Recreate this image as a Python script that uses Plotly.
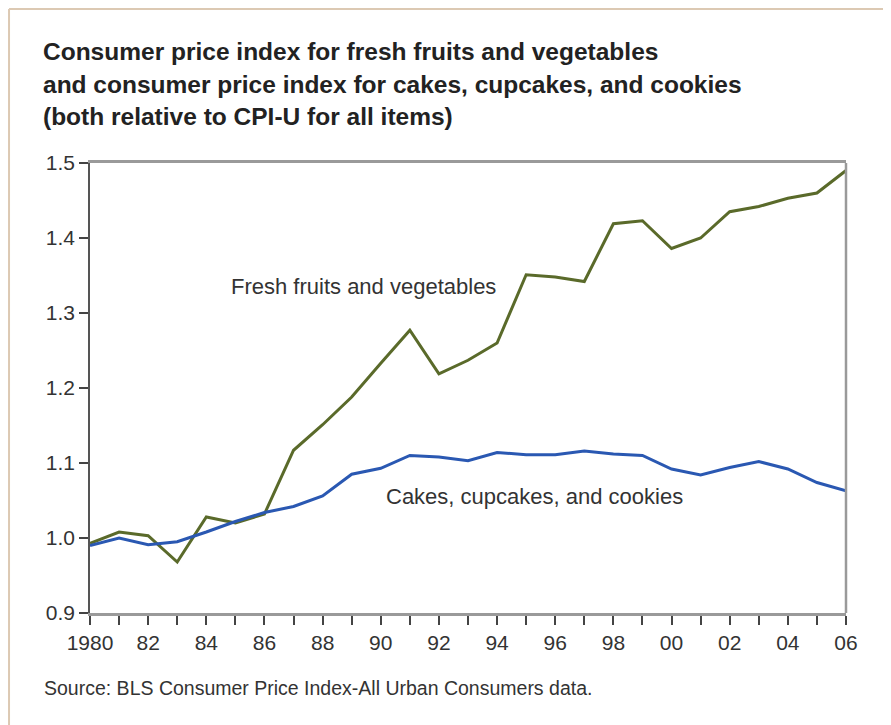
import plotly.graph_objects as go

years = list(range(1980, 2007))
fresh_fruits_veg = [0.993, 1.008, 1.003, 0.968, 1.028, 1.020, 1.032, 1.117, 1.151, 1.188,
                    1.233, 1.277, 1.219, 1.237, 1.260, 1.351, 1.348, 1.342, 1.419, 1.423,
                    1.386, 1.400, 1.435, 1.442, 1.453, 1.460, 1.490]
cakes_cookies = [0.990, 1.000, 0.991, 0.995, 1.008, 1.022, 1.034, 1.042, 1.056, 1.085,
                 1.093, 1.110, 1.108, 1.103, 1.114, 1.111, 1.111, 1.116, 1.112, 1.110,
                 1.092, 1.084, 1.094, 1.102, 1.092, 1.074, 1.063]
x_tick_labels = ["1980", "", "82", "", "84", "", "86", "", "88", "", "90", "", "92", "",
                 "94", "", "96", "", "98", "", "00", "", "02", "", "04", "", "06"]
y_ticks = [0.9, 1.0, 1.1, 1.2, 1.3, 1.4, 1.5]
y_tick_labels = ["0.9", "1.0", "1.1", "1.2", "1.3", "1.4", "1.5"]
title_lines = ["Consumer price index for fresh fruits and vegetables",
               "and consumer price index for cakes, cupcakes, and cookies",
               "(both relative to CPI-U for all items)"]
series_labels = ["Fresh fruits and vegetables", "Cakes, cupcakes, and cookies"]
source_text = "Source: BLS Consumer Price Index-All Urban Consumers data."

GREEN = "#5a6a2a"
BLUE = "#2a58b2"
FONT = "Liberation Sans, Arial, sans-serif"

fig = go.Figure()
fig.add_trace(go.Scatter(x=years, y=fresh_fruits_veg, mode="lines",
                         line=dict(color=GREEN, width=3), name=series_labels[0]))
fig.add_trace(go.Scatter(x=years, y=cakes_cookies, mode="lines",
                         line=dict(color=BLUE, width=3), name=series_labels[1]))

annotations = []
for txt, yp in zip(title_lines, [1.2467, 1.1744, 1.1044]):
    annotations.append(dict(text="<b>" + txt + "</b>", xref="paper", yref="paper",
                            x=-0.0648, y=yp, xanchor="left", yanchor="middle",
                            showarrow=False,
                            font=dict(family=FONT, size=24.5, color="#222222")))
annotations.append(dict(text=series_labels[0], x=1989.4, y=1.335, xref="x", yref="y",
                        showarrow=False, font=dict(family=FONT, size=22, color="#333333")))
annotations.append(dict(text=series_labels[1], x=1995.3, y=1.056, xref="x", yref="y",
                        showarrow=False, font=dict(family=FONT, size=22, color="#333333")))
annotations.append(dict(text=source_text, xref="paper", yref="paper", x=-0.0635, y=-0.1667,
                        xanchor="left", yanchor="middle", showarrow=False,
                        font=dict(family=FONT, size=19.5, color="#333333")))

shapes = [
    # outer beige frame (left and top)
    dict(type="line", xref="paper", yref="paper", x0=-0.1071, x1=-0.1071, y0=-0.26, y1=1.3422,
         line=dict(color="#dcc9b3", width=2)),
    dict(type="line", xref="paper", yref="paper", x0=-0.1071, x1=1.07, y0=1.3422, y1=1.3422,
         line=dict(color="#dcc9b3", width=2)),
    # right frame line of plot
    dict(type="line", xref="paper", yref="paper", x0=1, x1=1, y0=0, y1=1,
         line=dict(color="#9a9a9a", width=2.5)),
]

fig.update_layout(
    width=883, height=717,
    margin=dict(l=82, r=45, t=155, b=112),
    paper_bgcolor="#ffffff", plot_bgcolor="#ffffff",
    showlegend=False,
    annotations=annotations,
    shapes=shapes,
    font=dict(family=FONT, color="#333333"),
    xaxis=dict(range=[1980, 2006], tickvals=years, ticktext=x_tick_labels,
               showgrid=False, zeroline=False, showline=True, mirror=True,
               linecolor="#9a9a9a", linewidth=2.5, ticks="outside", ticklen=9,
               tickcolor="#444444", tickwidth=1.5, tickfont=dict(size=21, color="#333333")),
    yaxis=dict(range=[0.9, 1.5], tickvals=y_ticks, ticktext=y_tick_labels,
               showgrid=False, zeroline=False, showline=True, linecolor="#555555",
               linewidth=1.5, ticks="outside", ticklen=9, tickcolor="#444444", tickwidth=1.5,
               tickfont=dict(size=21, color="#333333")),
)

fig.write_html("out.html")
